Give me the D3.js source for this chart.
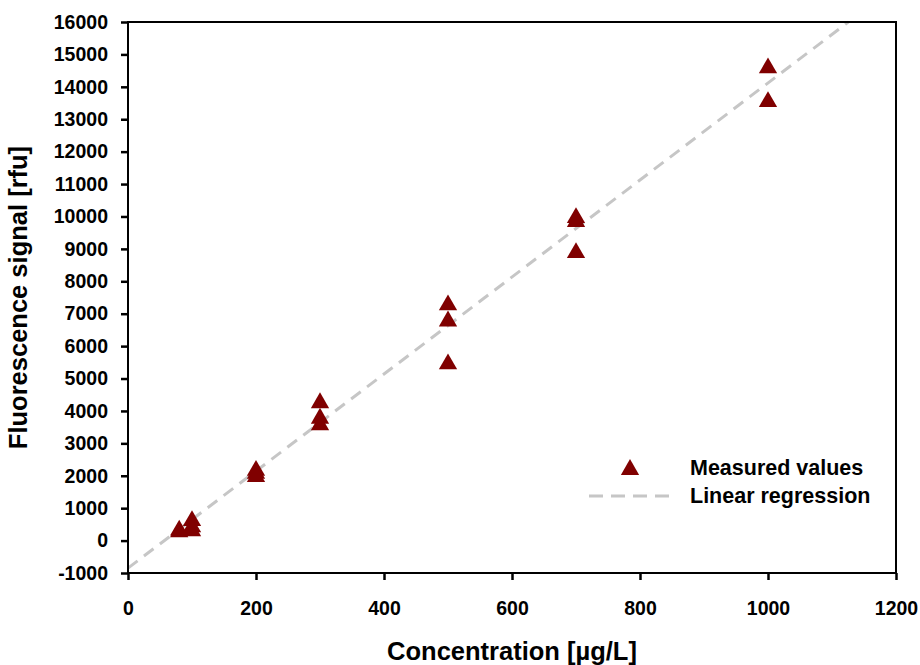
<!DOCTYPE html>
<html>
<head>
<meta charset="utf-8">
<script src="https://cdn.jsdelivr.net/npm/d3@7"></script>
<style>
  body { margin: 0; background: #fff; }
  svg { display: block; font-family: "Liberation Sans", Arial, sans-serif; font-weight: bold; }
</style>
</head>
<body>
<svg width="920" height="665"></svg>
<script>
;(function (d3) {
  // measured values (concentration in ug/L, signal in rfu)
  var concentrations = [80, 80, 100, 100, 100, 200, 200, 200, 300, 300, 300, 500, 500, 500, 700, 700, 700, 1000, 1000]
  var signals = [400, 350, 380, 500, 690, 2050, 2150, 2240, 3650, 3850, 4330, 5530, 6850, 7350, 8960, 9920, 10040, 13620, 14660]

  // fitted line: [intercept, slope]
  var regression = [-850, 14.97]

  var xTicks = [0, 200, 400, 600, 800, 1000, 1200]
  var yTicks = d3.range(-1000, 16001, 1000)

  var legendLabels = ['Measured values', 'Linear regression']

  var svg = d3.select('svg')

  var left = 128
  var top = 22
  var width = 768
  var height = 551

  var x = d3.scaleLinear().domain([0, 1200]).range([left, left + width])
  var y = d3.scaleLinear().domain([-1000, 16000]).range([top + height, top])

  var markRed = '#800000'
  var lineGrey = '#c6c6c6'

  // regression line, clipped to the plot box
  var xEnd = (16000 - regression[0]) / regression[1]
  var fit = [0, xEnd].map(function (c) {
    return {c: c, s: regression[0] + regression[1] * c}
  })

  svg.append('path')
    .datum(fit)
    .attr('d', d3.line()
      .x(function (d) { return x(d.c) })
      .y(function (d) { return y(d.s) }))
    .style('fill', 'none')
    .style('stroke', lineGrey)
    .style('stroke-width', 3)
    .style('stroke-dasharray', '12,8')

  // triangles
  var tri = d3.symbol().type(d3.symbolTriangle).size(145)
  var triShift = 2.6

  svg.selectAll('path.pt')
    .data(concentrations)
    .enter()
    .append('path')
    .attr('class', 'pt')
    .attr('d', tri)
    .attr('transform', function (d, i) {
      return 'translate(' + x(d) + ',' + (y(signals[i]) + triShift) + ')'
    })
    .style('fill', markRed)

  // frame
  svg.append('rect')
    .attr('x', left)
    .attr('y', top)
    .attr('width', width)
    .attr('height', height)
    .style('fill', 'none')
    .style('stroke', '#000')
    .style('stroke-width', 2)

  // axes
  var plain = function (d) { return String(d) }

  var xAxis = svg.append('g')
    .attr('transform', 'translate(0,' + (top + height) + ')')
    .call(d3.axisBottom(x).tickValues(xTicks).tickSize(7).tickPadding(21).tickFormat(plain))

  var yAxis = svg.append('g')
    .attr('transform', 'translate(' + left + ',0)')
    .call(d3.axisLeft(y).tickValues(yTicks).tickSize(7).tickPadding(13).tickFormat(plain))

  ;[xAxis, yAxis].forEach(function (g) {
    g.select('.domain').remove()
    g.selectAll('line').style('stroke', '#000').style('stroke-width', 2.5)
    g.selectAll('text')
      .style('font-family', '"Liberation Sans", Arial, sans-serif')
      .style('font-weight', 'bold')
      .style('font-size', '19.5px')
      .style('fill', '#000')
  })

  // axis titles
  svg.append('text')
    .attr('x', left + width / 2)
    .attr('y', 660)
    .attr('text-anchor', 'middle')
    .style('font-size', '25.5px')
    .text('Concentration [µg/L]')

  svg.append('text')
    .attr('transform', 'translate(27,' + (top + height / 2) + ') rotate(-90)')
    .attr('text-anchor', 'middle')
    .style('font-size', '25.5px')
    .text('Fluorescence signal [rfu]')

  // legend
  var legend = svg.append('g')

  legend.append('path')
    .attr('d', tri)
    .attr('transform', 'translate(630,' + (467 + triShift) + ')')
    .style('fill', markRed)

  legend.append('line')
    .attr('x1', 589)
    .attr('x2', 672)
    .attr('y1', 496)
    .attr('y2', 496)
    .style('stroke', lineGrey)
    .style('stroke-width', 3)
    .style('stroke-dasharray', '14,8')

  legend.selectAll('text')
    .data(legendLabels)
    .enter()
    .append('text')
    .attr('x', 690)
    .attr('y', function (d, i) { return 475 + i * 28 })
    .style('font-size', '21.5px')
    .text(function (d) { return d })
})(window.d3)
</script>
</body>
</html>
